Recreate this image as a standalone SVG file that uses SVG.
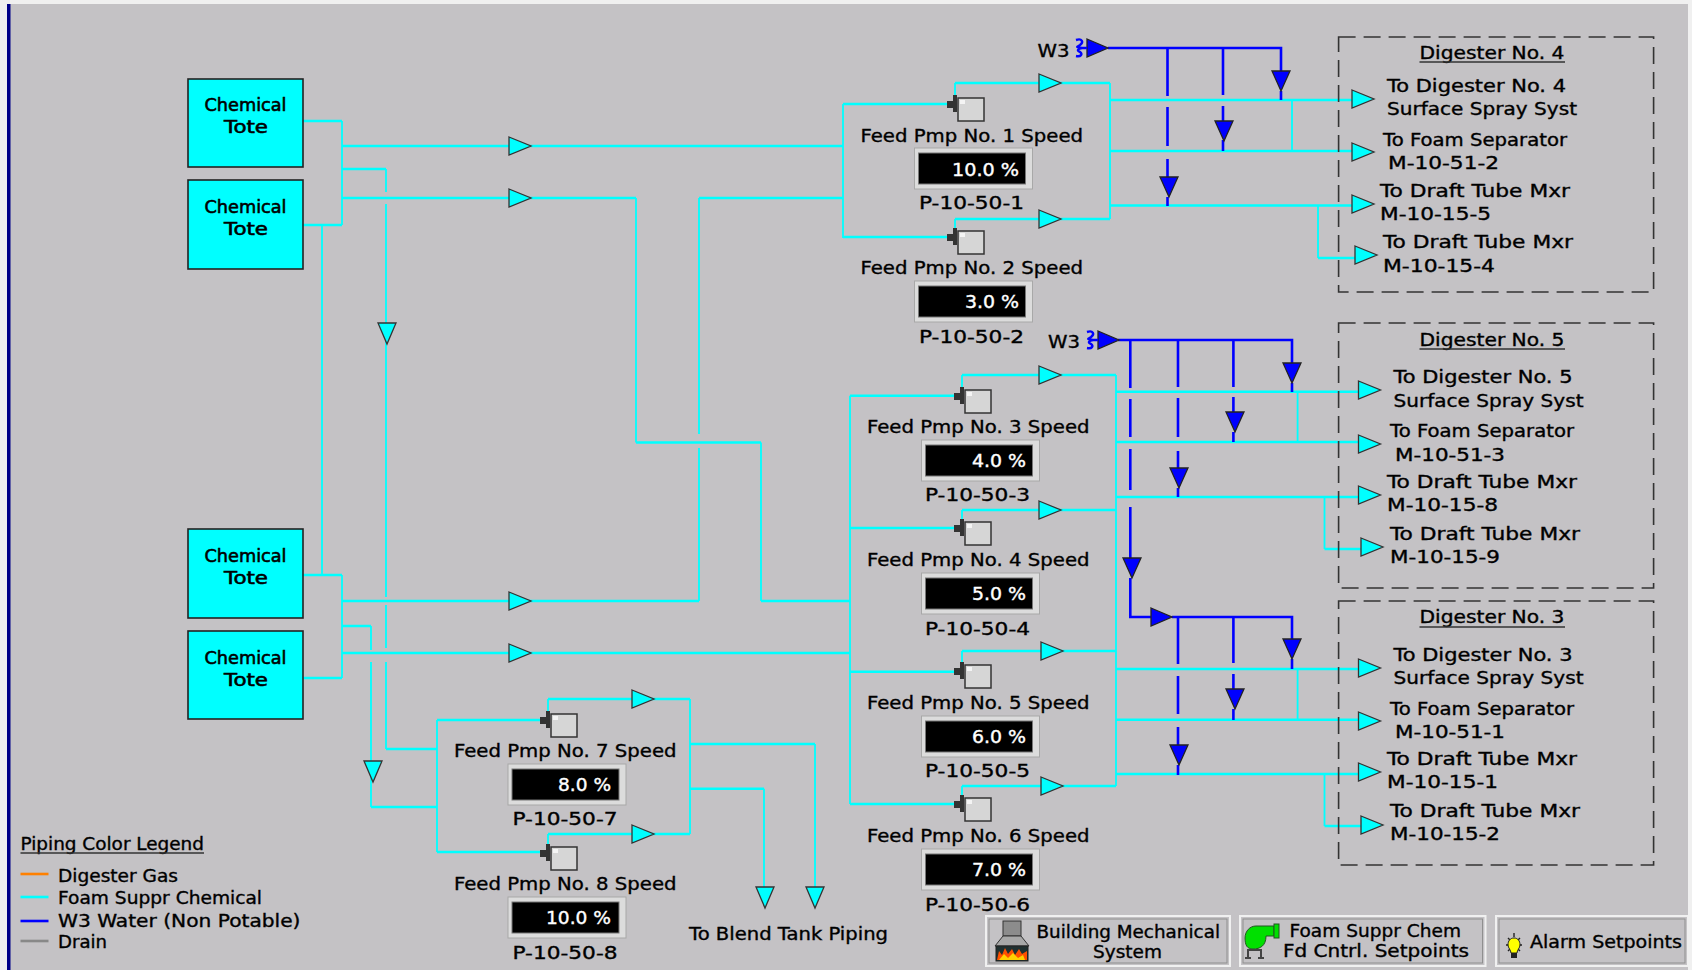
<svg xmlns="http://www.w3.org/2000/svg" xmlns:xlink="http://www.w3.org/1999/xlink" width="1692" height="970" viewBox="0 0 1692 970">
<style>
text{font-family:"DejaVu Sans","Liberation Sans",sans-serif;font-size:17px;fill:#000;stroke:#000;stroke-width:.35}
.v{font-size:18px;fill:#fff;stroke:#fff;stroke-width:.4}
.m{text-anchor:middle}
.tt{font-size:18px;stroke-width:.6}
.ch{fill:none;stroke:#00ffff;stroke-width:2.6}
.cv{fill:none;stroke:#00ffff;stroke-width:1.8}
.bl{fill:none;stroke:#0000ff;stroke-width:2.6}
.tote{fill:#00ffff;stroke:#222;stroke-width:1.6}
.dash{fill:none;stroke:#333;stroke-width:1.6;stroke-dasharray:17 8}
.ul{stroke:#333;stroke-width:1.6}
.btn{fill:#c4c2c5;stroke:#f0f0f0;stroke-width:2}
.btn2{fill:none;stroke:#8f8f8f;stroke-width:1}
</style>
<defs>
<polygon id="rc" points="0,-9 22,0 0,9" fill="#00ffff" stroke="#333" stroke-width="1.3"/>
<polygon id="dc" points="-9,0 9,0 0,21" fill="#00ffff" stroke="#333" stroke-width="1.3"/>
<polygon id="rb" points="0,-9 21,0 0,9" fill="#0000ff" stroke="#222" stroke-width="1.3"/>
<polygon id="db" points="-9,0 9,0 0,20" fill="#0000ff" stroke="#222" stroke-width="1.3"/>
<g id="pump">
<rect x="0" y="0" width="26" height="23" fill="#d6d6d6" stroke="#333" stroke-width="1.5"/>
<rect x="2" y="2" width="5" height="4" fill="#f4f4f4"/>
<polygon points="-11,3 -5,3 -5,-3 -1,-3 -1,14 -5,14 -5,10 -11,10" fill="#333"/>
</g>
<g id="gauge">
<rect x="0" y="0" width="118" height="41" fill="#dcdcdc" stroke="#a8a8a8" stroke-width="1"/>
<rect x="4" y="5" width="107" height="31" fill="#000" stroke="#777" stroke-width="1"/>
</g>
<path id="sq" d="M3,1C9,-1 11,3 7,6C4,8 2,8 9,9M9,9C4,10 4,12 7,13C10,15 8,18 3,17M9,9H14" fill="none" stroke="#0000ff" stroke-width="2.4"/>
</defs>
<rect id="page" width="1692" height="970" fill="#f0f0f0"/>
<rect id="panel" x="7" y="4" width="1681" height="966" fill="#c4c2c5"/>
<rect id="bar" x="7" y="4" width="3.5" height="966" fill="#000088"/>

<g id="connectors">
<path class="ch" d="M303,121H342M303,225H342M342,146H843M342,198H636M699,198H843M342,169H386M636,442.5H761M761,601H850M303,575H342M303,678H342M342,601H699M342,653H850M342,626H371M386,749H437M371,807H437"/>
<path class="cv" d="M342,121V225M342,575V678M386,169V192M386,204V597M386,605V648M386,662V749M322,225V575M636,198V442.5M699,198V434M699,448V601M761,442.5V601M371,626V650M371,662V807"/>
<path class="ch" d="M843,104H947M843,237H947M955,83H1110M955,219H1110M1110,100H1352M1110,151H1352M1110,205.500H1352M1318,258H1355"/>
<path class="cv" d="M843,104V238M955,83V96M955,219V229M1110,83V219M1318,205.500V258M1292,100V151"/>
<path class="ch" d="M850,395.700H954M850,528H954M850,671.700H954M850,804H954M962,375H1116M962,510H1116M962,651H1116M962,786H1116M1116,391.700H1358M1116,442H1358M1116,497H1358M1324.500,549H1361M1116,669H1358M1116,719.700H1358M1116,774H1358M1324.500,826H1361"/>
<path class="cv" d="M850,395.700V804M1116,375V786M962,375V388M962,510V520M962,651V663M962,786V796M1324.500,497V549M1297.600,392V442M1324.500,774V826M1297.600,669V720"/>
<path class="ch" d="M437,720H540M437,852H540M548,699H690M548,834H690M690,744H815M690,788.700H764"/>
<path class="cv" d="M437,720V852M548,699V712M548,834V845M690,699V834M815,744V887M764,788.700V887"/>
<path class="bl" d="M1108,48H1281V71M1281,91V100M1223,48V95M1223,106V121M1223,140V151M1167.500,48V96M1167.500,107V146M1167.500,159V177M1167.500,197V206"/>
<path class="bl" d="M1118,340H1292V363M1292,383V392M1233.400,340V387M1233.400,397V412M1233.400,432V442M1178,340V387M1178,398V437M1178,451V468M1178,488V497M1130.300,340V388M1130.300,399V437M1130.300,449V490M1130.300,507V558M1130.300,578V617H1151M1172,617H1292V639M1292,659V669M1233.400,617V663M1233.400,674V689M1233.400,709V720M1178,617V664M1178,676V714M1178,727V745M1178,765V775"/>
<use href="#rc" x="509" y="146"/><use href="#rc" x="509" y="198"/><use href="#rc" x="509" y="601"/><use href="#rc" x="509" y="653"/>
<use href="#rc" x="1039" y="83"/><use href="#rc" x="1039" y="219"/><use href="#rc" x="1039" y="375"/><use href="#rc" x="1039" y="510"/><use href="#rc" x="1041" y="651"/><use href="#rc" x="1041" y="786"/><use href="#rc" x="632" y="699"/><use href="#rc" x="632" y="834"/>
<use href="#rc" x="1352" y="99"/><use href="#rc" x="1352" y="152"/><use href="#rc" x="1352" y="204"/><use href="#rc" x="1355" y="255"/>
<use href="#rc" x="1358.500" y="390"/><use href="#rc" x="1358.500" y="444"/><use href="#rc" x="1358.500" y="495"/><use href="#rc" x="1361" y="547"/>
<use href="#rc" x="1358.500" y="668"/><use href="#rc" x="1358.500" y="721"/><use href="#rc" x="1358.500" y="772"/><use href="#rc" x="1361" y="825"/>
<use href="#dc" x="387" y="323"/><use href="#dc" x="373" y="761"/><use href="#dc" x="765" y="887"/><use href="#dc" x="815" y="887"/>
<use href="#rb" x="1087" y="48"/><use href="#rb" x="1098" y="340"/><use href="#rb" x="1151" y="617"/>
<use href="#db" x="1281" y="71"/><use href="#db" x="1224" y="121"/><use href="#db" x="1169" y="177"/>
<use href="#db" x="1292" y="363"/><use href="#db" x="1235" y="412"/><use href="#db" x="1179" y="468"/><use href="#db" x="1132" y="558"/>
<use href="#db" x="1292" y="639"/><use href="#db" x="1235" y="689"/><use href="#db" x="1179" y="745"/>
<use href="#sq" x="1073" y="39"/><use href="#sq" x="1084" y="331"/>
</g>

<g id="tote-1"><rect class="tote" x="188" y="79" width="115" height="88"/><text class="m tt" x="245.500" y="111" textLength="82" lengthAdjust="spacingAndGlyphs">Chemical</text><text class="m tt" x="246" y="133" textLength="44" lengthAdjust="spacingAndGlyphs">Tote</text></g>
<g id="tote-2"><rect class="tote" x="188" y="180" width="115" height="89"/><text class="m tt" x="245.500" y="213" textLength="82" lengthAdjust="spacingAndGlyphs">Chemical</text><text class="m tt" x="246" y="235" textLength="44" lengthAdjust="spacingAndGlyphs">Tote</text></g>
<g id="tote-3"><rect class="tote" x="188" y="529" width="115" height="89"/><text class="m tt" x="245.500" y="562" textLength="82" lengthAdjust="spacingAndGlyphs">Chemical</text><text class="m tt" x="246" y="584" textLength="44" lengthAdjust="spacingAndGlyphs">Tote</text></g>
<g id="tote-4"><rect class="tote" x="188" y="631" width="115" height="88"/><text class="m tt" x="245.500" y="664" textLength="82" lengthAdjust="spacingAndGlyphs">Chemical</text><text class="m tt" x="246" y="686" textLength="44" lengthAdjust="spacingAndGlyphs">Tote</text></g>

<g id="pump-1"><use href="#pump" x="958" y="98"/><text x="860.500" y="141.500" textLength="222.500" lengthAdjust="spacingAndGlyphs">Feed Pmp No. 1 Speed</text><use href="#gauge" x="914.500" y="148"/><text class="v" x="952" y="175.500" textLength="67" lengthAdjust="spacingAndGlyphs">10.0 %</text><text x="919" y="209" textLength="105" lengthAdjust="spacingAndGlyphs">P-10-50-1</text></g>
<g id="pump-2"><use href="#pump" x="958" y="231"/><text x="860.500" y="274" textLength="222.500" lengthAdjust="spacingAndGlyphs">Feed Pmp No. 2 Speed</text><use href="#gauge" x="914.500" y="281"/><text class="v" x="965" y="308" textLength="54" lengthAdjust="spacingAndGlyphs">3.0 %</text><text x="919" y="343" textLength="105" lengthAdjust="spacingAndGlyphs">P-10-50-2</text></g>
<g id="pump-3"><use href="#pump" x="965" y="390"/><text x="867" y="433" textLength="222.500" lengthAdjust="spacingAndGlyphs">Feed Pmp No. 3 Speed</text><use href="#gauge" x="921.500" y="440"/><text class="v" x="972" y="467" textLength="54" lengthAdjust="spacingAndGlyphs">4.0 %</text><text x="925" y="501" textLength="105" lengthAdjust="spacingAndGlyphs">P-10-50-3</text></g>
<g id="pump-4"><use href="#pump" x="965" y="522"/><text x="867" y="566" textLength="222.500" lengthAdjust="spacingAndGlyphs">Feed Pmp No. 4 Speed</text><use href="#gauge" x="921.500" y="573"/><text class="v" x="972" y="600" textLength="54" lengthAdjust="spacingAndGlyphs">5.0 %</text><text x="925" y="635" textLength="105" lengthAdjust="spacingAndGlyphs">P-10-50-4</text></g>
<g id="pump-5"><use href="#pump" x="965" y="665"/><text x="867" y="709" textLength="222.500" lengthAdjust="spacingAndGlyphs">Feed Pmp No. 5 Speed</text><use href="#gauge" x="921.500" y="716"/><text class="v" x="972" y="743" textLength="54" lengthAdjust="spacingAndGlyphs">6.0 %</text><text x="925" y="777" textLength="105" lengthAdjust="spacingAndGlyphs">P-10-50-5</text></g>
<g id="pump-6"><use href="#pump" x="965" y="798"/><text x="867" y="842" textLength="222.500" lengthAdjust="spacingAndGlyphs">Feed Pmp No. 6 Speed</text><use href="#gauge" x="921.500" y="849"/><text class="v" x="972" y="876" textLength="54" lengthAdjust="spacingAndGlyphs">7.0 %</text><text x="925" y="911" textLength="105" lengthAdjust="spacingAndGlyphs">P-10-50-6</text></g>
<g id="pump-7"><use href="#pump" x="551" y="714"/><text x="454" y="757" textLength="222.500" lengthAdjust="spacingAndGlyphs">Feed Pmp No. 7 Speed</text><use href="#gauge" x="508" y="764"/><text class="v" x="558" y="791" textLength="53" lengthAdjust="spacingAndGlyphs">8.0 %</text><text x="512.500" y="825" textLength="105" lengthAdjust="spacingAndGlyphs">P-10-50-7</text></g>
<g id="pump-8"><use href="#pump" x="551" y="847"/><text x="454" y="890" textLength="222.500" lengthAdjust="spacingAndGlyphs">Feed Pmp No. 8 Speed</text><use href="#gauge" x="508" y="897"/><text class="v" x="546" y="924" textLength="65" lengthAdjust="spacingAndGlyphs">10.0 %</text><text x="512.500" y="959" textLength="105" lengthAdjust="spacingAndGlyphs">P-10-50-8</text></g>

<g id="w3-a"><text x="1037.500" y="57" textLength="32" lengthAdjust="spacingAndGlyphs">W3</text></g>
<g id="w3-b"><text x="1048" y="348" textLength="32" lengthAdjust="spacingAndGlyphs">W3</text></g>

<g id="digester-4">
<rect class="dash" x="1338.600" y="37" width="315" height="255"/>
<text x="1419.500" y="59" textLength="145" lengthAdjust="spacingAndGlyphs">Digester No. 4</text><line class="ul" x1="1419.500" y1="62" x2="1565" y2="62"/>
<text x="1387" y="92" textLength="179" lengthAdjust="spacingAndGlyphs">To Digester No. 4</text>
<text x="1387" y="115" textLength="190" lengthAdjust="spacingAndGlyphs">Surface Spray Syst</text>
<text x="1383" y="146" textLength="184" lengthAdjust="spacingAndGlyphs">To Foam Separator</text>
<text x="1388" y="169" textLength="111" lengthAdjust="spacingAndGlyphs">M-10-51-2</text>
<text x="1380" y="197" textLength="190" lengthAdjust="spacingAndGlyphs">To Draft Tube Mxr</text>
<text x="1380" y="220" textLength="111" lengthAdjust="spacingAndGlyphs">M-10-15-5</text>
<text x="1383" y="248" textLength="190" lengthAdjust="spacingAndGlyphs">To Draft Tube Mxr</text>
<text x="1383" y="272" textLength="112" lengthAdjust="spacingAndGlyphs">M-10-15-4</text>
</g>
<g id="digester-5">
<rect class="dash" x="1338.600" y="323" width="315" height="265"/>
<text x="1419.500" y="346" textLength="145" lengthAdjust="spacingAndGlyphs">Digester No. 5</text><line class="ul" x1="1419.500" y1="349" x2="1565" y2="349"/>
<text x="1393.500" y="383" textLength="179" lengthAdjust="spacingAndGlyphs">To Digester No. 5</text>
<text x="1393.500" y="407" textLength="190" lengthAdjust="spacingAndGlyphs">Surface Spray Syst</text>
<text x="1390" y="437" textLength="184" lengthAdjust="spacingAndGlyphs">To Foam Separator</text>
<text x="1395" y="461" textLength="110" lengthAdjust="spacingAndGlyphs">M-10-51-3</text>
<text x="1387" y="488" textLength="190" lengthAdjust="spacingAndGlyphs">To Draft Tube Mxr</text>
<text x="1387" y="511" textLength="111" lengthAdjust="spacingAndGlyphs">M-10-15-8</text>
<text x="1390" y="540" textLength="190" lengthAdjust="spacingAndGlyphs">To Draft Tube Mxr</text>
<text x="1390" y="563" textLength="110" lengthAdjust="spacingAndGlyphs">M-10-15-9</text>
</g>
<g id="digester-3">
<rect class="dash" x="1338.600" y="601" width="315" height="264"/>
<text x="1419.500" y="623" textLength="145" lengthAdjust="spacingAndGlyphs">Digester No. 3</text><line class="ul" x1="1419.500" y1="627" x2="1565" y2="627"/>
<text x="1393.500" y="661" textLength="179" lengthAdjust="spacingAndGlyphs">To Digester No. 3</text>
<text x="1393.500" y="684" textLength="190" lengthAdjust="spacingAndGlyphs">Surface Spray Syst</text>
<text x="1390" y="715" textLength="184" lengthAdjust="spacingAndGlyphs">To Foam Separator</text>
<text x="1395" y="738" textLength="110" lengthAdjust="spacingAndGlyphs">M-10-51-1</text>
<text x="1387" y="765" textLength="190" lengthAdjust="spacingAndGlyphs">To Draft Tube Mxr</text>
<text x="1387" y="788" textLength="111" lengthAdjust="spacingAndGlyphs">M-10-15-1</text>
<text x="1390" y="817" textLength="190" lengthAdjust="spacingAndGlyphs">To Draft Tube Mxr</text>
<text x="1390" y="840" textLength="110" lengthAdjust="spacingAndGlyphs">M-10-15-2</text>
</g>

<g id="blend-label"><text x="689" y="940" textLength="199" lengthAdjust="spacingAndGlyphs">To Blend Tank Piping</text></g>

<g id="legend">
<text x="20.500" y="850" textLength="183.500" lengthAdjust="spacingAndGlyphs">Piping Color Legend</text><line class="ul" x1="20.500" y1="853" x2="204" y2="853"/>
<line x1="20.500" y1="874" x2="48.500" y2="874" stroke="#ff8000" stroke-width="2.6"/>
<line x1="20.500" y1="897" x2="48.500" y2="897" stroke="#00ffff" stroke-width="2.6"/>
<line x1="20.500" y1="921" x2="48.500" y2="921" stroke="#0000ff" stroke-width="2.6"/>
<line x1="20.500" y1="941" x2="48.500" y2="941" stroke="#888888" stroke-width="2.6"/>
<text x="58" y="882" textLength="120" lengthAdjust="spacingAndGlyphs">Digester Gas</text>
<text x="58" y="904" textLength="204" lengthAdjust="spacingAndGlyphs">Foam Suppr Chemical</text>
<text x="58" y="927" textLength="242.500" lengthAdjust="spacingAndGlyphs">W3 Water (Non Potable)</text>
<text x="58" y="948" textLength="49" lengthAdjust="spacingAndGlyphs">Drain</text>
</g>

<g id="btn-building">
<rect class="btn" x="986" y="916" width="244" height="50"/><rect class="btn2" x="989" y="919" width="238" height="44"/>
<rect x="1003" y="921" width="18" height="15" fill="#8c8c8c" stroke="#333"/>
<polygon points="1003,936 1021,936 1029,946 995,946" fill="#a8a8a8" stroke="#333"/>
<rect x="996" y="946" width="32" height="15" fill="#203030" stroke="#222"/>
<polygon points="997,960 999,951 1002,955 1005,948 1008,954 1012,949 1015,955 1019,949 1022,954 1027,951 1027,960" fill="#ff5000"/>
<polygon points="999,960 1004,954 1008,958 1013,953 1018,958 1023,955 1025,960" fill="#ffd000"/>
<text x="1036.500" y="938" textLength="183.500" lengthAdjust="spacingAndGlyphs">Building Mechanical</text>
<text x="1093" y="958" textLength="69" lengthAdjust="spacingAndGlyphs">System</text>
</g>
<g id="btn-foam">
<rect class="btn" x="1240" y="916" width="245.500" height="50"/><rect class="btn2" x="1243" y="919" width="239.500" height="44"/>
<path d="M1256,926H1274V936H1266C1266,946 1260,949 1253,949C1247,949 1245,945 1245,938C1245,931 1250,926 1256,926Z" fill="#00e000" stroke="#225522"/>
<rect x="1274" y="924" width="5" height="14" fill="#00e000" stroke="#225522"/>
<path d="M1247,950H1262M1248,950V958M1261,950V958M1245,958H1251M1258,958H1264" fill="none" stroke="#444" stroke-width="2"/>
<text x="1289.500" y="937" textLength="171.500" lengthAdjust="spacingAndGlyphs">Foam Suppr Chem</text>
<text x="1283" y="957" textLength="186" lengthAdjust="spacingAndGlyphs">Fd Cntrl. Setpoints</text>
</g>
<g id="btn-alarm">
<rect class="btn" x="1496" y="916" width="192" height="50"/><rect class="btn2" x="1499" y="919" width="186" height="44"/>
<path d="M1514,933V937M1506,945H1509M1519,945H1522M1508,938L1510,940M1520,938L1518,940M1508,951L1510,949M1520,951L1518,949" stroke="#222" stroke-width="1.4"/>
<path d="M1514,938C1518,938 1520,941 1520,945C1520,948 1517,950 1517,953H1511C1511,950 1508,948 1508,945C1508,941 1510,938 1514,938Z" fill="#ffff00" stroke="#222"/>
<rect x="1511" y="953" width="6" height="5" fill="#222"/>
<text x="1530" y="948" textLength="152" lengthAdjust="spacingAndGlyphs">Alarm Setpoints</text>
</g>
</svg>
